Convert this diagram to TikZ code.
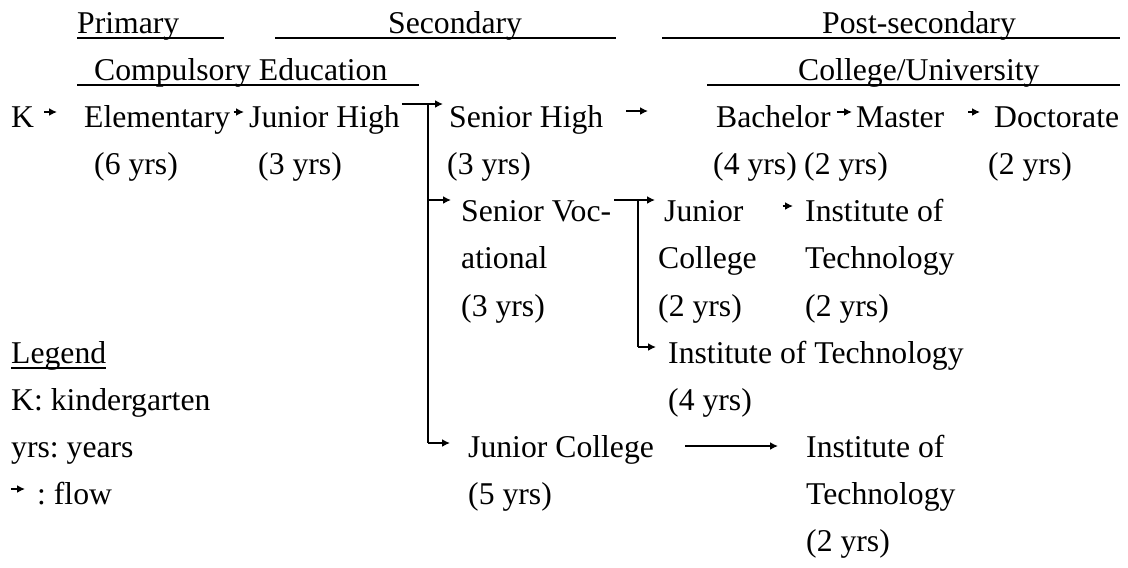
\documentclass[tikz,border=0pt]{standalone}
\usepackage{fontspec}
\setmainfont{Liberation Serif}
\usetikzlibrary{arrows.meta,calc}
\frenchspacing
\begin{document}
\begin{tikzpicture}[x=1pt,y=-1pt,>={Latex[length=8pt,width=8pt]},
  every node/.style={font=\fontsize{31.7pt}{38pt}\selectfont, anchor=base west, inner sep=0pt},
  line/.style={line width=1.8pt},
  flow/.style={line width=1.8pt,->}]
\useasboundingbox (0,0) rectangle (1128,568);

% headings
\node(Prim) at (77,33){Primary};
\node(Sec) at (388,33){Secondary};
\node(Post) at (822,33){Post-secondary};
\draw[line] (77,38) -- (224,38);
\draw[line] (275,38) -- (616,38);
\draw[line] (662,38) -- (1120,38);
\node(Comp) at (94,80){Compulsory Education};
\node(Univ) at (798,80){College/University};
\draw[line] (77,85) -- (419,85);
\draw[line] (707,85) -- (1120,85);

% main line
\node(K) at (11,127){K};
\node(Elem) at (84,127){Elementary};
\node(JH) at (249,127){Junior High};
\node(SH) at (449,127){Senior High};
\node(Bach) at (716,127){Bachelor};
\node(Mast) at (856,127){Master};
\node(Doct) at (994,127){Doctorate};
\node(Y1) at (94,174){(6 yrs)};
\node(Y2) at (258,174){(3 yrs)};
\node(Y3) at (447,174){(3 yrs)};
\node(Y4) at (713,174){(4 yrs)};
\node(Y5) at (804,174){(2 yrs)};
\node(Y6) at (988,174){(2 yrs)};

\draw[flow] ($(K.base east)+(10,-15)$) -- ($(Elem.base west)+(-27,-15)$);
\draw[flow] ($(Elem.base east)+(3,-15)$) -- ($(JH.base west)+(-5,-15)$);
\draw[flow] ($(SH.base east)+(23,-16)$) -- ($(Bach.base west)+(-68,-16)$);
\draw[flow] ($(Bach.base east)+(6,-15)$) -- ($(Mast.base west)+(-4,-15)$);
\draw[flow] ($(Mast.base east)+(24,-15)$) -- ($(Doct.base west)+(-14,-15)$);

% vocational branch
\node(SV) at (461,221){Senior Voc-};
\node(SV2) at (461,268){ational};
\node(SV3) at (461,316){(3 yrs)};
\node(Jr) at (664,221){Junior};
\node(Jr2) at (658,268){College};
\node(Jr3) at (658,316){(2 yrs)};
\node(IT1) at (805,221){Institute of};
\node(IT1b) at (805,268){Technology};
\node(IT1c) at (805,316){(2 yrs)};
\node(IT2) at (668,363){Institute of Technology};
\node(IT2b) at (668,410){(4 yrs)};

% five-year college
\node(JC) at (468,457){Junior College};
\node(JC2) at (468,504){(5 yrs)};
\node(IT3) at (806,457){Institute of};
\node(IT3b) at (806,504){Technology};
\node(IT3c) at (806,551){(2 yrs)};

% branches
\coordinate (J1) at (428,104);
\coordinate (J2) at (428,443);
\draw[line] ($(JH.base east)+(2,-23)$) -- (J1) -- (J2);
\draw[flow] (J1) -- ($(SH.base west |- J1)+(-6,0)$);
\draw[flow] ($(J1 |- SV.base)+(0,-21)$) -- ($(SV.base west)+(-10,-21)$);
\draw[flow] (J2) -- ($(JC.base west)+(-18,-14)$);

\coordinate (S1) at (638,200);
\coordinate (S2) at (638,347);
\draw[line] ($(SV.base east)+(3,-21)$) -- (S1) -- (S2);
\draw[flow] (S1) -- ($(Jr.base west |- S1)+(-9,0)$);
\draw[flow] (S2) -- ($(IT2.base west |- S2)+(-12,0)$);
\draw[flow] ($(Jr.base east)+(39,-15)$) -- ($(IT1.base west)+(-12,-15)$);
\draw[flow] ($(JC.base east)+(31,-11)$) -- ($(IT3.base west)+(-28,-11)$);

% legend
\node(Leg) at (11,363){Legend};
\draw[line] ($(Leg.base west)+(0,5)$) -- ($(Leg.base east)+(0,5)$);
\node(LegK) at (11,410){K: kindergarten};
\node(LegY) at (11,457){yrs: years};
\node(LegF) at (37,504){: flow};
\draw[flow] ($(LegF.base west)+(-26,-15)$) -- ($(LegF.base west)+(-12,-15)$);
\end{tikzpicture}
\end{document}
